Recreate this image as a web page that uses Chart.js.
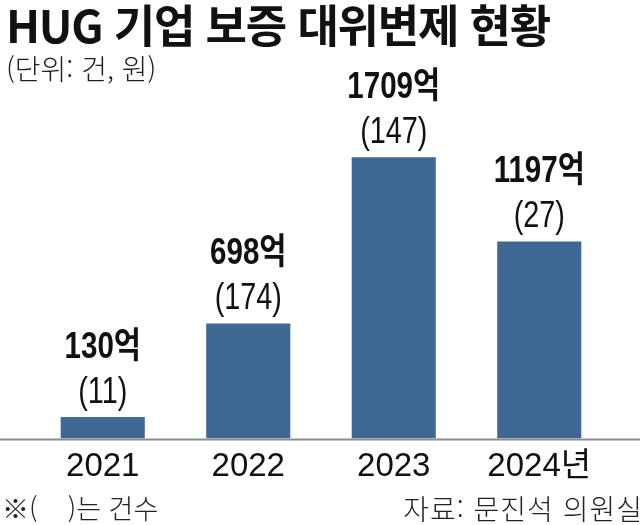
<!DOCTYPE html>
<html lang="ko">
<head>
<meta charset="utf-8">
<title>HUG 기업 보증 대위변제 현황</title>
<script src="https://cdn.jsdelivr.net/npm/chart.js@4.4.1/dist/chart.umd.min.js"></script>
<style>
  html, body { margin:0; padding:0; background:#fff; }
  #wrap { position:relative; width:640px; height:525px; overflow:hidden; font-family:"Noto Sans CJK KR", sans-serif; color:#111; }
  #chart { position:absolute; left:0; top:0; }
  .txt { position:absolute; white-space:pre; line-height:1; }
  #title { left:6px; top:1px; font-size:45px; font-weight:700; letter-spacing:-1.2px; }
  #unit { left:6px; top:54px; font-size:28px; font-weight:300; color:#222; }
  #note { left:2px; top:494px; font-size:27px; font-weight:300; color:#222; }
  #src { right:-3px; top:494px; font-size:28px; font-weight:300; color:#222; letter-spacing:1px; }
</style>
</head>
<body>
<div id="wrap">
  <canvas id="chart" width="640" height="525"></canvas>
  <div class="txt" id="title">HUG 기업 보증 대위변제 현황</div>
  <div class="txt" id="unit">(단위: 건, 원)</div>
  <div class="txt" id="note">※(    )는 건수</div>
  <div class="txt" id="src">자료: 문진석 의원실</div>
</div>
<script>
// values
const years = ['2021', '2022', '2023', '2024년'];
const amounts = [130, 698, 1709, 1197];   // 억 원
const counts = [11, 174, 147, 27];        // 건

const BAR_COLOR = '#3f6894';

// baseline across the whole width + labels over each bar
const barLabels = {
  id: 'barLabels',
  afterDatasetsDraw(chart) {
    const ctx = chart.ctx;
    const y0 = chart.scales.y.getPixelForValue(0);
    ctx.save();
    ctx.strokeStyle = '#8c8c8c';
    ctx.lineWidth = 2;
    ctx.beginPath(); ctx.moveTo(0, y0 + 1); ctx.lineTo(chart.width, y0 + 1); ctx.stroke();

    ctx.fillStyle = '#111';
    ctx.textAlign = 'center';
    ctx.textBaseline = 'middle';
    chart.getDatasetMeta(0).data.forEach((bar, i) => {
      // condensed look: squeeze horizontally
      ctx.save();
      ctx.translate(bar.x, bar.y - 69);
      ctx.scale(0.82, 1);
      ctx.font = 'bold 36px "Liberation Sans", "Noto Sans CJK KR"';
      ctx.fillText(amounts[i] + '억', 0, 0);
      ctx.restore();

      ctx.save();
      ctx.translate(bar.x, bar.y - 24);
      ctx.scale(0.8, 1);
      ctx.font = '36px "Liberation Sans", "Noto Sans CJK KR"';
      ctx.fillText('(' + counts[i] + ')', 0, 0);
      ctx.restore();
    });
    ctx.restore();
  }
};

new Chart(document.getElementById('chart'), {
  type: 'bar',
  data: {
    labels: years,
    datasets: [{
      data: amounts,
      backgroundColor: BAR_COLOR,
      borderWidth: 0,
      barPercentage: 0.578,
      categoryPercentage: 1
    }]
  },
  options: {
    responsive: false,
    animation: false,
    layout: { padding: { left: 30, right: 28, top: 60, bottom: 29 } },
    plugins: { legend: { display: false }, tooltip: { enabled: false } },
    scales: {
      y: { display: false, min: 0, max: 2300 },
      x: {
        grid: { display: false, drawTicks: false },
        border: { display: false },
        ticks: {
          color: '#111',
          padding: 9,
          font: { family: '"Liberation Sans", "Noto Sans CJK KR"', size: 33 }
        }
      }
    }
  },
  plugins: [barLabels]
});
</script>
</body>
</html>
